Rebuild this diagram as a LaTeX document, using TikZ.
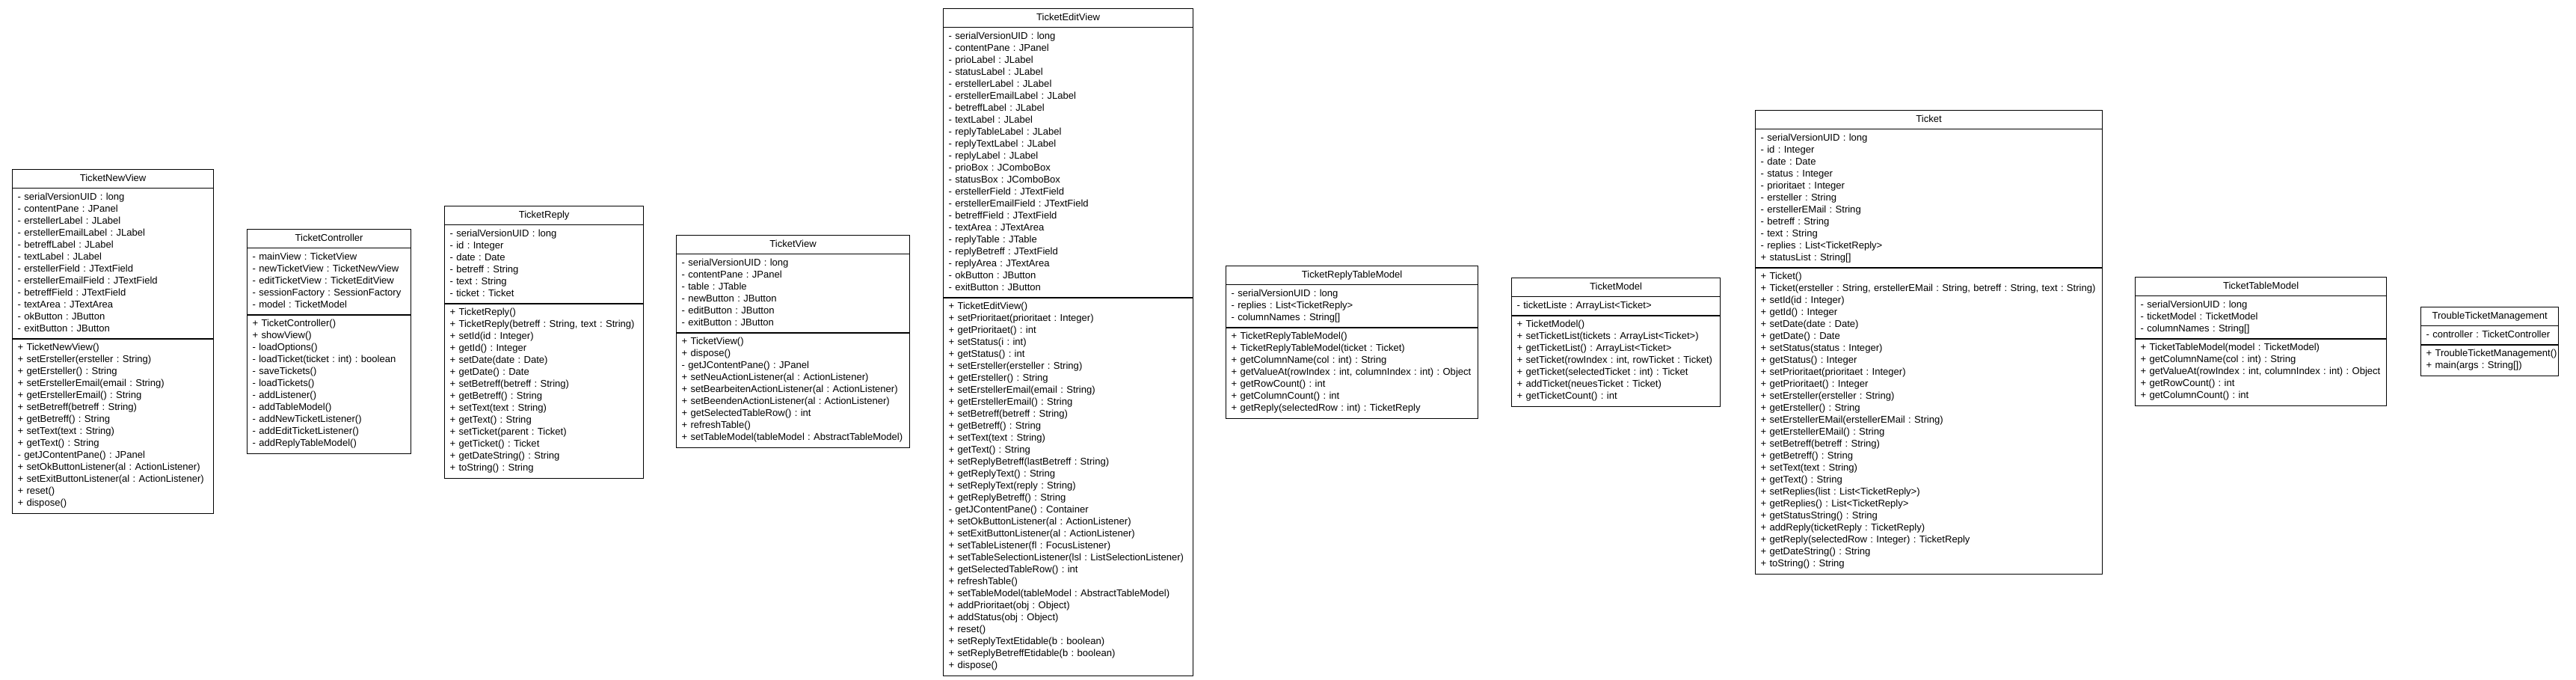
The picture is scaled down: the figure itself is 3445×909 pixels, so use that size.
\documentclass[tikz,border=0pt]{standalone}
\usepackage{fontspec}
\setmainfont{Liberation Sans}
\frenchspacing
\usetikzlibrary{shapes.multipart}
\tikzset{umlclass/.style={rectangle split, rectangle split parts=3, draw=black, line width=1.2pt, fill=white, anchor=north west, inner xsep=7pt, inner ysep=4pt, align=left, font=\fontsize{13.05}{16}\selectfont\frenchspacing}}
\newcommand\umlbox[6]{\node[umlclass,text width=#3] (#1) at (#2) {\hspace*{\fill}\strut #4\strut\hspace*{\fill}\strut\nodepart{two}\begin{tabular}{@{}l@{}}#5\end{tabular}\nodepart{three}\begin{tabular}{@{}l@{}}#6\end{tabular}};}
\begin{document}
\begin{tikzpicture}[x=1pt,y=-1pt]
\fill[white] (0,0) rectangle (3445,909);
\useasboundingbox (0,0) rectangle (3445,909);

\umlbox{newview}{16,226}{255pt}{TicketNewView}{%
- serialVersionUID : long\\
- contentPane : JPanel\\
- erstellerLabel : JLabel\\
- erstellerEmailLabel : JLabel\\
- betreffLabel : JLabel\\
- textLabel : JLabel\\
- erstellerField : JTextField\\
- erstellerEmailField : JTextField\\
- betreffField : JTextField\\
- textArea : JTextArea\\
- okButton : JButton\\
- exitButton : JButton}{%
+ TicketNewView()\\
+ setErsteller(ersteller : String)\\
+ getErsteller() : String\\
+ setErstellerEmail(email : String)\\
+ getErstellerEmail() : String\\
+ setBetreff(betreff : String)\\
+ getBetreff() : String\\
+ setText(text : String)\\
+ getText() : String\\
- getJContentPane() : JPanel\\
+ setOkButtonListener(al : ActionListener)\\
+ setExitButtonListener(al : ActionListener)\\
+ reset()\\
+ dispose()}

\umlbox{controller}{330,306}{205pt}{TicketController}{%
- mainView : TicketView\\
- newTicketView : TicketNewView\\
- editTicketView : TicketEditView\\
- sessionFactory : SessionFactory\\
- model : TicketModel}{%
+ TicketController()\\
+ showView()\\
- loadOptions()\\
- loadTicket(ticket : int) : boolean\\
- saveTickets()\\
- loadTickets()\\
- addListener()\\
- addTableModel()\\
- addNewTicketListener()\\
- addEditTicketListener()\\
- addReplyTableModel()}

\umlbox{reply}{594,275}{252pt}{TicketReply}{%
- serialVersionUID : long\\
- id : Integer\\
- date : Date\\
- betreff : String\\
- text : String\\
- ticket : Ticket}{%
+ TicketReply()\\
+ TicketReply(betreff : String, text : String)\\
+ setId(id : Integer)\\
+ getId() : Integer\\
+ setDate(date : Date)\\
+ getDate() : Date\\
+ setBetreff(betreff : String)\\
+ getBetreff() : String\\
+ setText(text : String)\\
+ getText() : String\\
+ setTicket(parent : Ticket)\\
+ getTicket() : Ticket\\
+ getDateString() : String\\
+ toString() : String}

\umlbox{view}{904,314}{298pt}{TicketView}{%
- serialVersionUID : long\\
- contentPane : JPanel\\
- table : JTable\\
- newButton : JButton\\
- editButton : JButton\\
- exitButton : JButton}{%
+ TicketView()\\
+ dispose()\\
- getJContentPane() : JPanel\\
+ setNeuActionListener(al : ActionListener)\\
+ setBearbeitenActionListener(al : ActionListener)\\
+ setBeendenActionListener(al : ActionListener)\\
+ getSelectedTableRow() : int\\
+ refreshTable()\\
+ setTableModel(tableModel : AbstractTableModel)}

\umlbox{editview}{1261,11}{320pt}{TicketEditView}{%
- serialVersionUID : long\\
- contentPane : JPanel\\
- prioLabel : JLabel\\
- statusLabel : JLabel\\
- erstellerLabel : JLabel\\
- erstellerEmailLabel : JLabel\\
- betreffLabel : JLabel\\
- textLabel : JLabel\\
- replyTableLabel : JLabel\\
- replyTextLabel : JLabel\\
- replyLabel : JLabel\\
- prioBox : JComboBox\\
- statusBox : JComboBox\\
- erstellerField : JTextField\\
- erstellerEmailField : JTextField\\
- betreffField : JTextField\\
- textArea : JTextArea\\
- replyTable : JTable\\
- replyBetreff : JTextField\\
- replyArea : JTextArea\\
- okButton : JButton\\
- exitButton : JButton}{%
+ TicketEditView()\\
+ setPrioritaet(prioritaet : Integer)\\
+ getPrioritaet() : int\\
+ setStatus(i : int)\\
+ getStatus() : int\\
+ setErsteller(ersteller : String)\\
+ getErsteller() : String\\
+ setErstellerEmail(email : String)\\
+ getErstellerEmail() : String\\
+ setBetreff(betreff : String)\\
+ getBetreff() : String\\
+ setText(text : String)\\
+ getText() : String\\
+ setReplyBetreff(lastBetreff : String)\\
+ getReplyText() : String\\
+ setReplyText(reply : String)\\
+ getReplyBetreff() : String\\
- getJContentPane() : Container\\
+ setOkButtonListener(al : ActionListener)\\
+ setExitButtonListener(al : ActionListener)\\
+ setTableListener(fl : FocusListener)\\
+ setTableSelectionListener(lsl : ListSelectionListener)\\
+ getSelectedTableRow() : int\\
+ refreshTable()\\
+ setTableModel(tableModel : AbstractTableModel)\\
+ addPrioritaet(obj : Object)\\
+ addStatus(obj : Object)\\
+ reset()\\
+ setReplyTextEtidable(b : boolean)\\
+ setReplyBetreffEtidable(b : boolean)\\
+ dispose()}

\umlbox{replytable}{1639,355}{323pt}{TicketReplyTableModel}{%
- serialVersionUID : long\\
- replies : List<TicketReply>\\
- columnNames : String[]}{%
+ TicketReplyTableModel()\\
+ TicketReplyTableModel(ticket : Ticket)\\
+ getColumnName(col : int) : String\\
+ getValueAt(rowIndex : int, columnIndex : int) : Object\\
+ getRowCount() : int\\
+ getColumnCount() : int\\
+ getReply(selectedRow : int) : TicketReply}

\umlbox{model}{2021,371}{265pt}{TicketModel}{%
- ticketListe : ArrayList<Ticket>}{%
+ TicketModel()\\
+ setTicketList(tickets : ArrayList<Ticket>)\\
+ getTicketList() : ArrayList<Ticket>\\
+ setTicket(rowIndex : int, rowTicket : Ticket)\\
+ getTicket(selectedTicket : int) : Ticket\\
+ addTicket(neuesTicket : Ticket)\\
+ getTicketCount() : int}

\umlbox{ticket}{2347,147}{450pt}{Ticket}{%
- serialVersionUID : long\\
- id : Integer\\
- date : Date\\
- status : Integer\\
- prioritaet : Integer\\
- ersteller : String\\
- erstellerEMail : String\\
- betreff : String\\
- text : String\\
- replies : List<TicketReply>\\
+ statusList : String[]}{%
+ Ticket()\\
+ Ticket(ersteller : String, erstellerEMail : String, betreff : String, text : String)\\
+ setId(id : Integer)\\
+ getId() : Integer\\
+ setDate(date : Date)\\
+ getDate() : Date\\
+ setStatus(status : Integer)\\
+ getStatus() : Integer\\
+ setPrioritaet(prioritaet : Integer)\\
+ getPrioritaet() : Integer\\
+ setErsteller(ersteller : String)\\
+ getErsteller() : String\\
+ setErstellerEMail(erstellerEMail : String)\\
+ getErstellerEMail() : String\\
+ setBetreff(betreff : String)\\
+ getBetreff() : String\\
+ setText(text : String)\\
+ getText() : String\\
+ setReplies(list : List<TicketReply>)\\
+ getReplies() : List<TicketReply>\\
+ getStatusString() : String\\
+ addReply(ticketReply : TicketReply)\\
+ getReply(selectedRow : Integer) : TicketReply\\
+ getDateString() : String\\
+ toString() : String}

\umlbox{tablemodel}{2855,370}{322pt}{TicketTableModel}{%
- serialVersionUID : long\\
- ticketModel : TicketModel\\
- columnNames : String[]}{%
+ TicketTableModel(model : TicketModel)\\
+ getColumnName(col : int) : String\\
+ getValueAt(rowIndex : int, columnIndex : int) : Object\\
+ getRowCount() : int\\
+ getColumnCount() : int}

\umlbox{main}{3237,410}{170pt}{TroubleTicketManagement}{%
- controller : TicketController}{%
+ TroubleTicketManagement()\\
+ main(args : String[])}
\end{tikzpicture}
\end{document}
